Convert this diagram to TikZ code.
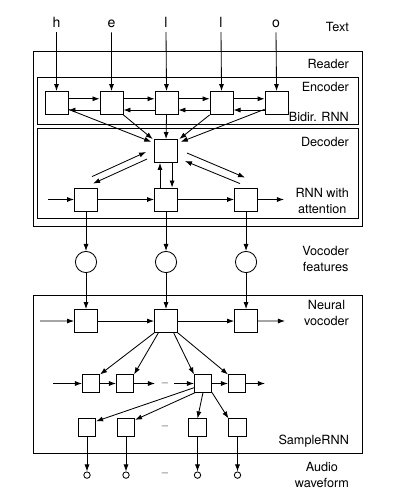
\documentclass[tikz,border=0pt]{standalone}
\usepackage{fontspec}
\setmainfont{TeX Gyre Heros}
\usetikzlibrary{arrows.meta, calc, positioning}
\tikzstyle{cell} = [rectangle, draw, fill=white, minimum size=0.575cm, inner sep=0pt]
\tikzstyle{smallcell} = [cell, minimum size=0.43cm]
\tikzstyle{feat} = [circle, draw, fill=white, minimum size=0.53cm, inner sep=0pt]
\tikzstyle{sample} = [circle, draw, fill=white, minimum size=0.16cm, inner sep=0pt]
\tikzstyle{line} = [draw, -{Latex[length=5pt, width=3.6pt]}]
\tikzstyle{tag} = [anchor=east, align=center, font=\fontsize{9}{12}\selectfont]
\tikzstyle{chr} = [anchor=base, font=\fontsize{10}{12}\selectfont]
\tikzstyle{gap} = [text=gray, font=\fontsize{8}{10}\selectfont]

\begin{document}
\begin{tikzpicture}[x=0.025cm, y=-0.025cm, line width=0.6pt]
    \useasboundingbox (0,0) rectangle (400,500);

    % Frames
    \draw (33,51) rectangle (362,226);
    \draw (37,77) rectangle (358,124);
    \draw (37,128) rectangle (358,218);
    \draw (33,295) rectangle (362,453);

    % Labels
    \node[tag] (ltext) at (354,27) {Text};
    \node[tag] (lreader) at (354,64) {Reader};
    \node[tag] (lenc) at (354,87) {Encoder};
    \node[tag] (lbidir) at (354,117) {Bidir. RNN};
    \node[tag] (ldec) at (354,142) {Decoder};
    \node[tag] (lattn) at (354,201) {RNN with\\attention};
    \node[tag] (lfeat) at (354,259) {Vocoder\\features};
    \node[tag] (lvoc) at (354,313) {Neural\\vocoder};
    \node[tag] (lsrnn) at (354,441) {SampleRNN};
    \node[tag] (lwave) at (354,475) {Audio\\waveform};

    % Text input
    \node[chr] (c1) at (56.5,27) {h};
    \node[chr] (c2) at (111.5,27) {e};
    \node[chr] (c3) at (166,27) {l};
    \node[chr] (c4) at (221,27) {l};
    \node[chr] (c5) at (276,27) {o};

    % Encoder
    \node[cell] (e1) at (56.5,103) {};
    \node[cell, right of=e1, node distance=1.375cm] (e2) {};
    \node[cell, right of=e2, node distance=1.375cm] (e3) {};
    \node[cell, right of=e3, node distance=1.375cm] (e4) {};
    \node[cell, right of=e4, node distance=1.375cm] (e5) {};

    % Decoder
    \node[cell] (d1) at (86,199.5) {};
    \node[cell, right of=d1, node distance=2cm] (d2) {};
    \node[cell, right of=d2, node distance=2cm] (d3) {};
    \node[cell, above of=d2, node distance=1.2125cm] (att) {};
    \coordinate (din) at (48,199.5);
    \coordinate (dout) at (284,199.5);

    % Vocoder features
    \node[feat, below of=d1, node distance=1.5625cm] (f1) {};
    \node[feat, below of=d2, node distance=1.5625cm] (f2) {};
    \node[feat, below of=d3, node distance=1.5625cm] (f3) {};

    % Neural vocoder
    \node[cell, below of=f1, node distance=1.475cm] (v1) {};
    \node[cell, below of=f2, node distance=1.475cm] (v2) {};
    \node[cell, below of=f3, node distance=1.475cm] (v3) {};
    \coordinate (vin) at (40,321);
    \coordinate (vout) at (285,321);

    % SampleRNN tiers
    \node[smallcell] (s1) at (91,383.5) {};
    \node[smallcell, right of=s1, node distance=0.85cm] (s2) {};
    \node[smallcell] (s3) at (203,383.5) {};
    \node[smallcell, right of=s3, node distance=0.85cm] (s4) {};
    \coordinate (sin) at (53,383.5);
    \coordinate (sgap) at (155,383.5);
    \coordinate (sgo) at (174,383.5);
    \coordinate (sout) at (265,383.5);
    \node[gap] (g1) at (165,385) {--};

    \node[smallcell] (t1) at (87,427.5) {};
    \node[smallcell] (t2) at (126,427.5) {};
    \node[smallcell] (t3) at (197.5,427.5) {};
    \node[smallcell] (t4) at (237.5,427.5) {};
    \node[gap] (g2) at (165,428) {--};

    % Audio waveform
    \node[sample, below of=t1, node distance=1.19cm] (w1) {};
    \node[sample, below of=t2, node distance=1.19cm] (w2) {};
    \node[sample, below of=t3, node distance=1.19cm] (w3) {};
    \node[sample, below of=t4, node distance=1.19cm] (w4) {};
    \node[gap] (g3) at (165,475) {--};

    % Edges: text to encoder
    \path[line] (c1.south) -- (e1.north);
    \path[line] (c2.south) -- (e2.north);
    \path[line] (c3.south) -- (e3.north);
    \path[line] (c4.south) -- (e4.north);
    \path[line] (c5.south) -- (e5.north);

    % Edges: bidirectional RNN
    \path[line] ([yshift=3pt]e1.east) -- ([yshift=3pt]e2.west);
    \path[line] ([yshift=3pt]e2.east) -- ([yshift=3pt]e3.west);
    \path[line] ([yshift=3pt]e3.east) -- ([yshift=3pt]e4.west);
    \path[line] ([yshift=3pt]e4.east) -- ([yshift=3pt]e5.west);
    \path[line] ([yshift=-5pt]e2.west) -- ([yshift=-5pt]e1.east);
    \path[line] ([yshift=-5pt]e3.west) -- ([yshift=-5pt]e2.east);
    \path[line] ([yshift=-5pt]e4.west) -- ([yshift=-5pt]e3.east);
    \path[line] ([yshift=-5pt]e5.west) -- ([yshift=-5pt]e4.east);

    % Edges: encoder to attention
    \path[line] ([yshift=4pt]e1.south east) -- ([xshift=-2pt,yshift=-2pt]att.north west);
    \path[line] (e2.south east) -- ([xshift=-1pt]att.north west);
    \path[line] (e3.south) -- (att.north);
    \path[line] (e4.south west) -- ([xshift=1pt]att.north east);
    \path[line] ([yshift=4pt]e5.south west) -- ([xshift=2pt,yshift=-2pt]att.north east);

    % Edges: attention and decoder
    \coordinate (la) at ($(d1.north)+(6,-11)$);
    \coordinate (lb) at ($(att.west)+(-8,1)$);
    \coordinate (lc) at ($(att.west)+(-7,8)$);
    \coordinate (ld) at ($(d1.north)+(7,-4)$);
    \coordinate (ra) at ($(att.east)+(9,2)$);
    \coordinate (rb) at ($(d3.north)+(-1,-10)$);
    \coordinate (rc) at ($(d3.north)+(-6,-4)$);
    \coordinate (rd) at ($(att.east)+(7,10)$);
    \path[line] (la) -- (lb);
    \path[line] (lc) -- (ld);
    \path[line] (ra) -- (rb);
    \path[line] (rc) -- (rd);
    \path[line] ([xshift=-4.3pt]d2.north) -- ([xshift=-4.3pt]att.south);
    \path[line] ([xshift=4.3pt]att.south) -- ([xshift=4.3pt]d2.north);
    \path[line] (din) -- (d1);
    \path[line] (d1) -- (d2);
    \path[line] (d2) -- (d3);
    \path[line] (d3) -- (dout);

    % Edges: decoder to vocoder
    \path[line] (d1) -- (f1);
    \path[line] (d2) -- (f2);
    \path[line] (d3) -- (f3);
    \path[line] (f1) -- (v1);
    \path[line] (f2) -- (v2);
    \path[line] (f3) -- (v3);
    \path[line] (vin) -- (v1);
    \path[line] (v1) -- (v2);
    \path[line] (v2) -- (v3);
    \path[line] (v3) -- (vout);

    % Edges: SampleRNN
    \path[line] (v2.south west) -- (s1.north east);
    \path[line] ([xshift=3pt]v2.south west) -- (s2.north east);
    \path[line] ([xshift=-3pt]v2.south east) -- (s3.north west);
    \path[line] (v2.south east) -- (s4.north west);
    \path[line] (sin) -- (s1);
    \path[line] (s1) -- (s2);
    \path[line] (s2) -- (sgap);
    \path[line] (sgo) -- (s3);
    \path[line] (s3) -- (s4);
    \path[line] (s4) -- (sout);
    \path[line] ([yshift=-3pt]s3.west) -- ([yshift=-2pt]t1.north east);
    \path[line] ([xshift=1pt]s3.south west) -- ([yshift=-1pt]t2.north east);
    \path[line] (s3.south) -- (t3.north);
    \path[line] (s3.south east) -- (t4.north west);
    \path[line] (t1) -- (w1);
    \path[line] (t2) -- (w2);
    \path[line] (t3) -- (w3);
    \path[line] (t4) -- (w4);
\end{tikzpicture}
\end{document}
